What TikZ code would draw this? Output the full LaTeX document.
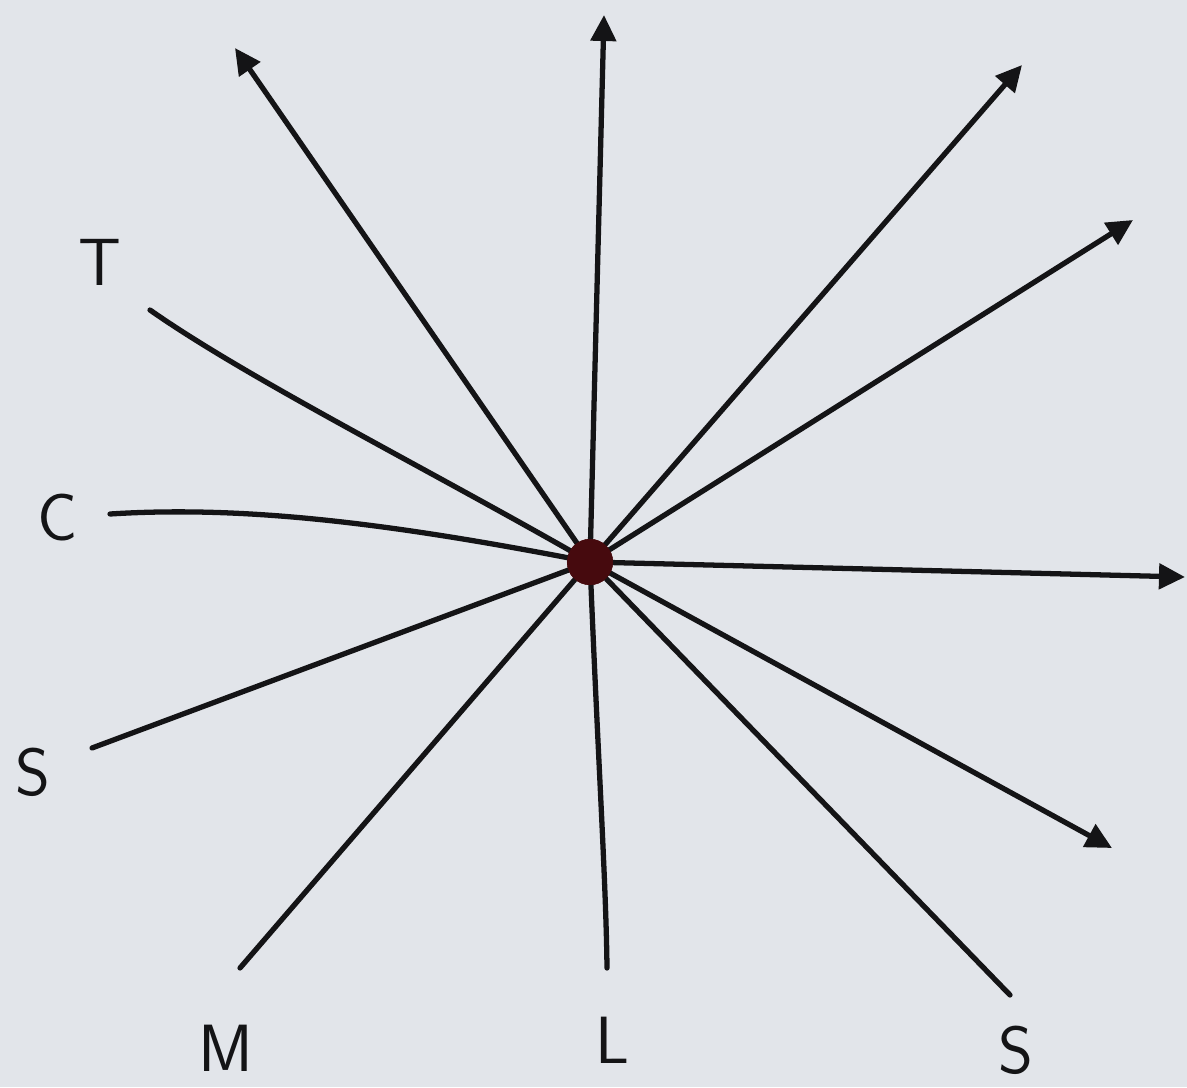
\documentclass[tikz,border=0pt]{standalone}
\usepackage{tikz}
\usetikzlibrary{arrows.meta}
\definecolor{papercolor}{RGB}{226,229,234}
\definecolor{hubcolor}{RGB}{70,10,14}
\definecolor{inkcolor}{RGB}{20,20,22}

\begin{document}
\begin{tikzpicture}[
    x=0.01cm, y=-0.01cm,
    hub/.style={circle, fill=hubcolor, inner sep=0pt, minimum size=0.46cm},
    ray/.style={draw=inkcolor, line width=1.5pt, line cap=round},
    arrowray/.style={ray, -{Triangle[length=2.6mm, width=2.5mm]}},
    letter/.style={font=\fontsize{19}{19}\selectfont\sffamily, text=inkcolor, inner sep=0pt}
]
\fill[papercolor] (0,0) rectangle (1187,1087);
\useasboundingbox (0,0) rectangle (1187,1087);

\node[hub] (hub) at (590,562) {};

% ends with arrow tips
\coordinate (up) at (604,15);
\coordinate (upleft) at (235,48);
\coordinate (upright) at (1022,65);
\coordinate (rightup) at (1133,220);
\coordinate (east) at (1185,577);
\coordinate (downright) at (1112,848);

% free ends
\coordinate (endT) at (150,310);
\coordinate (endC) at (110,514);
\coordinate (endSl) at (92,748);
\coordinate (endM) at (240,968);
\coordinate (endL) at (607,968);
\coordinate (endSr) at (1010,995);

\foreach \e in {up,upleft,upright,rightup,east,downright}
  \draw[arrowray] (hub.center) -- (\e);

\foreach \e in {endSl,endM,endSr}
  \draw[ray] (hub.center) -- (\e);
\draw[ray] (hub.center) .. controls (430,470) and (250,380) .. (endT);
\draw[ray] (hub.center) .. controls (400,525) and (250,505) .. (endC);
\draw[ray] (hub.center) .. controls (598,760) and (606,880) .. (endL);

\node[hub] at (hub) {};

% Labels
\node[letter] (labT) at (100,262) {T};
\node[letter] (labC) at (58,518) {C};
\node[letter] (labSl) at (33,772) {S};
\node[letter] (labM) at (226,1048) {M};
\node[letter] (labL) at (612,1040) {L};
\node[letter] (labSr) at (1016,1050) {S};

\end{tikzpicture}
\end{document}
